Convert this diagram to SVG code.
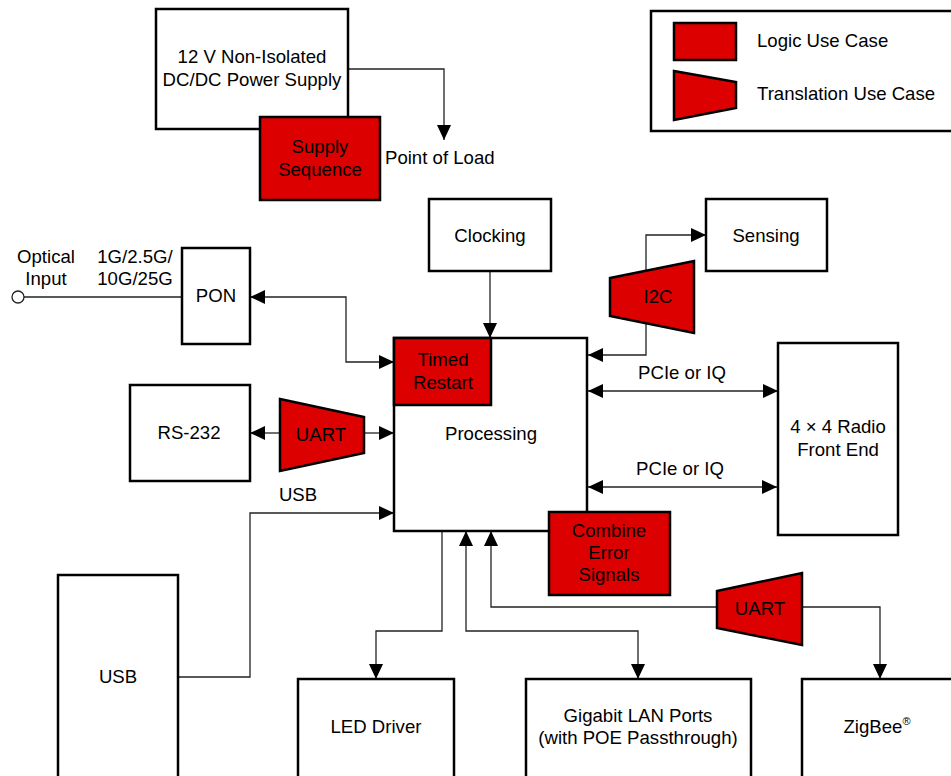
<svg xmlns="http://www.w3.org/2000/svg" width="951" height="776" viewBox="0 0 951 776">
<style>
.box{fill:#fff;stroke:#000;stroke-width:2.5}
.red{fill:#dd0000;stroke:#000;stroke-width:2.5}
.c{fill:none;stroke:#222;stroke-width:1.3}
text{font-family:"Liberation Sans",Arial,sans-serif;font-size:18.6px;fill:#000;text-anchor:middle}
.l{text-anchor:start}
</style>
<defs>
<marker id="a" markerUnits="userSpaceOnUse" markerWidth="16" markerHeight="15" refX="15" refY="7" orient="auto-start-reverse" viewBox="0 0 16 15">
<path d="M0,0 L15,7 L0,14 z" fill="#000"/>
</marker>
</defs>
<rect width="951" height="776" fill="#fff"/>

<g id="connectors">
<path class="c" d="M348,69 H444 V140" marker-end="url(#a)"/>
<circle cx="18" cy="297" r="6" fill="#fff" stroke="#222" stroke-width="1.3"/>
<path class="c" d="M24,297 H182"/>
<path class="c" d="M250,297 H346 V362 H394" marker-start="url(#a)" marker-end="url(#a)"/>
<path class="c" d="M490,271 V338" marker-end="url(#a)"/>
<path class="c" d="M646,272 V235 H706" marker-end="url(#a)"/>
<path class="c" d="M646,323 V355 H588" marker-end="url(#a)"/>
<path class="c" d="M588,391 H778" marker-start="url(#a)" marker-end="url(#a)"/>
<path class="c" d="M588,487 H777" marker-start="url(#a)" marker-end="url(#a)"/>
<path class="c" d="M280,433 H250" marker-end="url(#a)"/>
<path class="c" d="M364,433 H394" marker-end="url(#a)"/>
<path class="c" d="M178,677 H250 V513 H394" marker-end="url(#a)"/>
<path class="c" d="M442,531 V631 H376 V679" marker-end="url(#a)"/>
<path class="c" d="M466,531 V631 H638 V679" marker-start="url(#a)" marker-end="url(#a)"/>
<path class="c" d="M491,531 V607 H717" marker-start="url(#a)"/>
<path class="c" d="M802,607 H880 V679" marker-end="url(#a)"/>
</g>

<g id="power-supply">
<rect class="box" x="156" y="9" width="192" height="120"/>
<text x="252" y="63">12 V Non-Isolated</text>
<text x="252" y="86">DC/DC Power Supply</text>
</g>
<g id="supply-sequence">
<rect class="red" x="260" y="117" width="120" height="83"/>
<text x="320" y="153">Supply</text>
<text x="320" y="176">Sequence</text>
</g>
<text class="l" x="385" y="164">Point of Load</text>

<g id="legend">
<rect class="box" x="651" y="11" width="302" height="120"/>
<rect class="red" x="674" y="23" width="62" height="37"/>
<text class="l" x="757" y="47">Logic Use Case</text>
<polygon class="red" points="674,71 736,82 736,108 674,120"/>
<text class="l" x="757" y="100">Translation Use Case</text>
</g>

<g id="optical-labels">
<text x="46" y="263">Optical</text>
<text x="46" y="285">Input</text>
<text x="135" y="263">1G/2.5G/</text>
<text x="135" y="285">10G/25G</text>
</g>

<g id="pon">
<rect class="box" x="182" y="248" width="68" height="96"/>
<text x="216" y="302">PON</text>
</g>

<g id="clocking">
<rect class="box" x="429" y="199" width="122" height="72"/>
<text x="490" y="242">Clocking</text>
</g>

<g id="sensing">
<rect class="box" x="706" y="199" width="121" height="72"/>
<text x="766" y="242">Sensing</text>
</g>

<g id="i2c">
<polygon class="red" points="610,278 694,261 694,333 610,316"/>
<text x="658" y="303">I2C</text>
</g>

<g id="processing">
<rect class="box" x="394" y="338" width="193" height="193"/>
<text x="491" y="440">Processing</text>
</g>

<g id="timed-restart">
<rect class="red" x="394" y="338" width="97" height="67"/>
<text x="443" y="366">Timed</text>
<text x="443" y="389">Restart</text>
</g>

<g id="combine-error">
<rect class="red" x="549" y="512" width="121" height="83"/>
<text x="609" y="537">Combine</text>
<text x="609" y="559">Error</text>
<text x="609" y="581">Signals</text>
</g>

<g id="radio">
<rect class="box" x="778" y="343" width="120" height="192"/>
<text x="838" y="433">4 × 4 Radio</text>
<text x="838" y="456">Front End</text>
</g>
<text x="682" y="379">PCIe or IQ</text>
<text x="680" y="475">PCIe or IQ</text>

<g id="rs232">
<rect class="box" x="130" y="385" width="120" height="96"/>
<text x="189" y="439">RS-232</text>
</g>

<g id="uart1">
<polygon class="red" points="280,399 364,417 364,453 280,471"/>
<text x="321" y="441">UART</text>
</g>
<text x="298" y="501">USB</text>

<g id="usb">
<rect class="box" x="58" y="575" width="120" height="210"/>
<text x="118" y="683">USB</text>
</g>

<g id="led-driver">
<rect class="box" x="298" y="679" width="156" height="106"/>
<text x="376" y="733">LED Driver</text>
</g>

<g id="gigabit">
<rect class="box" x="526" y="679" width="225" height="106"/>
<text x="638" y="722">Gigabit LAN Ports</text>
<text x="638" y="744">(with POE Passthrough)</text>
</g>

<g id="uart2">
<polygon class="red" points="717,591 802,573 802,645 717,628"/>
<text x="760" y="615">UART</text>
</g>

<g id="zigbee">
<rect class="box" x="802" y="679" width="160" height="106"/>
<text x="877" y="733">ZigBee<tspan dy="-8" font-size="11">®</tspan></text>
</g>
</svg>
